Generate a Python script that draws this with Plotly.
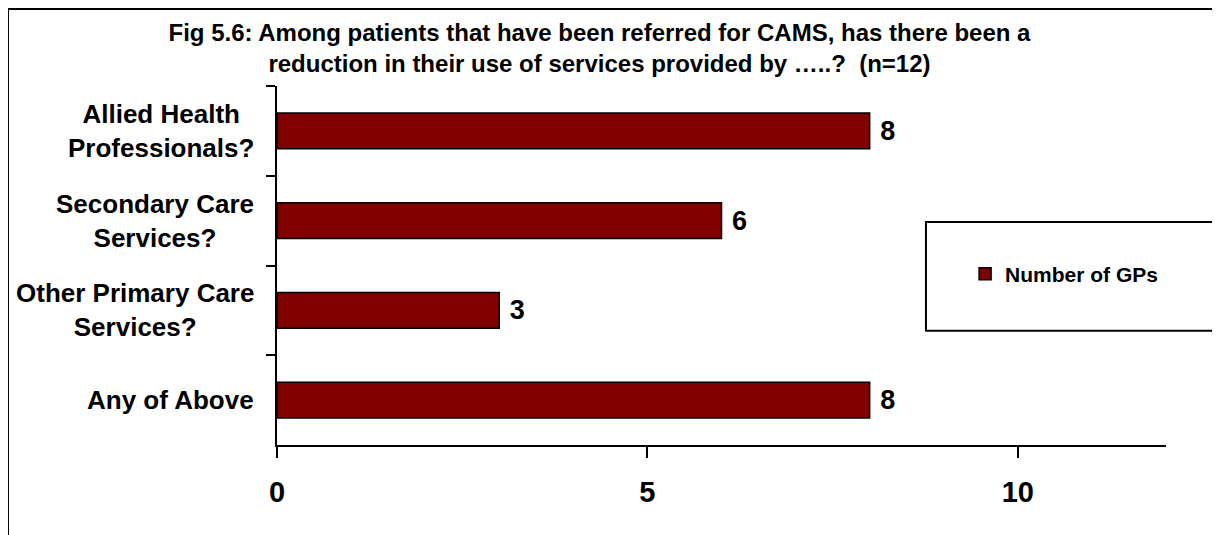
import plotly.graph_objects as go

categorias = ['Allied Health<br>Professionals?', 'Secondary Care<br>Services?',
              'Other Primary Care<br>Services?', 'Any of Above']
num_gps = [8, 6, 3, 8]
serie_nome = 'Number of GPs'
titulo = ('Fig 5.6: Among patients that have been referred for CAMS, has there been a<br>'
          'reduction in their use of services provided by …..?  (n=12)')

fonte = 'Arial, Liberation Sans, sans-serif'

fig = go.Figure()
fig.add_trace(go.Bar(
    x=num_gps,
    y=categorias,
    orientation='h',
    name=serie_nome,
    marker=dict(color='#800000', line=dict(color='black', width=1.5)),
    text=num_gps,
    texttemplate=' %{text}',
    textposition='outside',
    textfont=dict(size=27, color='black', family=fonte, weight='bold'),
    cliponaxis=False,
    showlegend=True,
))

# rotulos das categorias: bloco alinhado a direita, linhas centralizadas
for c in categorias:
    fig.add_annotation(x=-0.0236, xref='paper', y=c, yref='y', text=c,
                       showarrow=False, align='center', xanchor='right',
                       font=dict(size=26, color='black', family=fonte, weight='bold'))

# moldura externa e caixa da legenda
fig.add_shape(type='rect', xref='paper', yref='paper', x0=-0.3026, x1=1.0574,
              y0=-0.6, y1=1.2145, line=dict(color='black', width=2))
fig.add_shape(type='rect', xref='paper', yref='paper', x0=0.730, x1=1.055,
              y0=0.318, y1=0.621, line=dict(color='black', width=2))

fig.update_layout(
    width=1212, height=527,
    margin=dict(l=269, r=54, t=78, b=90),
    paper_bgcolor='white', plot_bgcolor='white',
    font=dict(family=fonte, color='black'),
    bargap=0.6,
    title=dict(text=titulo, x=0.488, xanchor='center', y=0.937, yanchor='top',
               font=dict(size=24, color='black', family=fonte, weight='bold')),
    legend=dict(x=0.774, y=0.476, xanchor='left', yanchor='middle',
                font=dict(size=21, color='black', family=fonte, weight='bold'),
                bgcolor='rgba(0,0,0,0)'),
)
fig.update_xaxes(range=[0, 12], dtick=5, showgrid=False, zeroline=False,
                 showline=True, linecolor='black', linewidth=2,
                 ticks='outside', ticklen=11, tickwidth=2, tickcolor='black',
                 tickfont=dict(size=29, color='black', family=fonte, weight='bold'),
                 ticklabelstandoff=9)
fig.update_yaxes(autorange='reversed', showgrid=False, showline=True,
                 linecolor='black', linewidth=2, ticks='outside', tickson='boundaries',
                 ticklen=9, tickwidth=2, tickcolor='black', showticklabels=False)

fig.write_html('out.html')
